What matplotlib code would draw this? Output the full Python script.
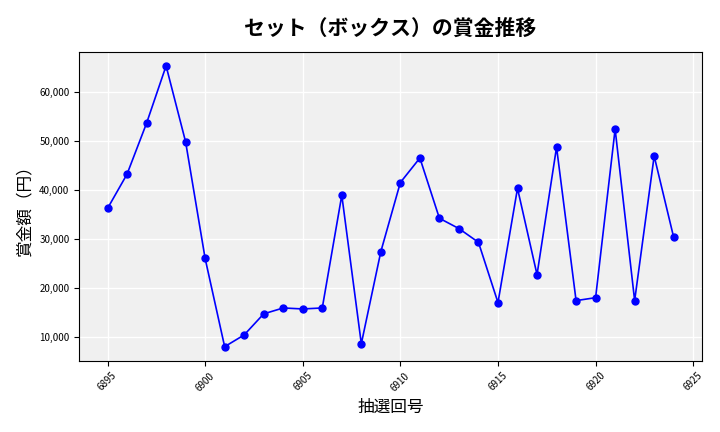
import matplotlib

matplotlib.use("Agg")
import matplotlib.pyplot as plt
from matplotlib.ticker import FuncFormatter

plt.rcParams["font.family"] = ["Noto Sans CJK JP", "DejaVu Sans"]

# draw numbers and prize amounts (yen)
draws = list(range(6895, 6925))
prizes = [
    36200, 43200, 53600, 65300, 49800, 26000, 8000, 10400, 14700, 15900,
    15700, 15900, 38900, 8600, 27400, 41500, 46500, 34200, 32100, 29300,
    17000, 40300, 22700, 48700, 17400, 18000, 52400, 17400, 46900, 30300,
]

fig, ax = plt.subplots(figsize=(7.2, 4.32), dpi=100)
ax.set_facecolor("#f0f0f0")
ax.grid(True, color="white", linewidth=1)
ax.set_axisbelow(True)
for s in ax.spines.values():
    s.set_color("black")
    s.set_linewidth(0.8)

ax.plot(draws, prizes, color="blue", marker="o", markersize=5, linewidth=1.2)

ax.set_xticks(range(6895, 6926, 5))
ax.tick_params(axis="x", rotation=45, labelsize=7)
ax.tick_params(axis="y", labelsize=7)
ax.yaxis.set_major_formatter(FuncFormatter(lambda v, p: f"{int(v):,}"))

ax.set_title("セット（ボックス）の賞金推移", fontsize=15, fontweight="bold", pad=12)
ax.set_xlabel("抽選回号", fontsize=12)
ax.set_ylabel("賞金額（円）", fontsize=12)

fig.subplots_adjust(left=0.11, right=0.975, top=0.88, bottom=0.165)
fig.savefig("out.png")
